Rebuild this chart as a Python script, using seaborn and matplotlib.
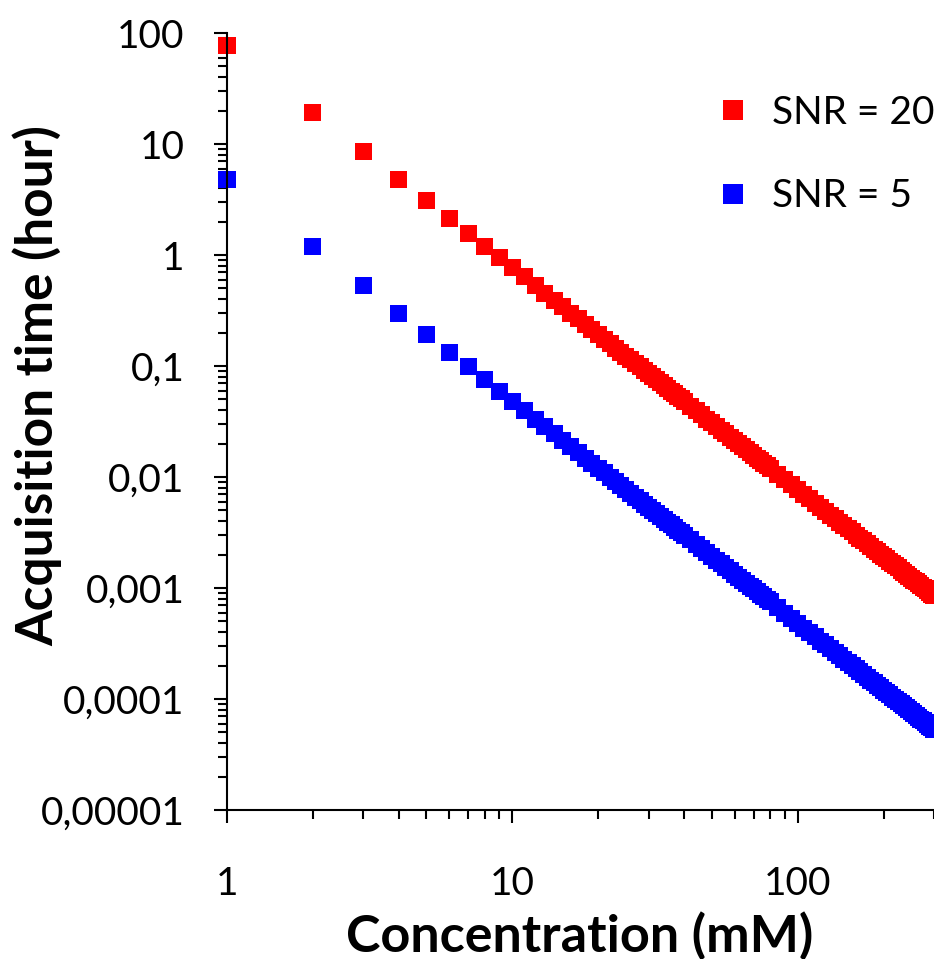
import matplotlib
matplotlib.use("Agg")
import matplotlib.pyplot as plt
import matplotlib.ticker as mticker
import pandas as pd
import seaborn as sns

# ---------------- data ----------------
concentration_mM = [
    1, 2, 3, 4, 5, 6, 7, 8, 9, 10, 11, 12, 13, 14, 15, 16, 17, 18, 19, 20,
    21, 22, 23, 24, 25, 26, 27, 28, 29, 30, 31, 32, 33, 34, 35, 36, 37, 38, 39, 40,
    42, 44, 46, 48, 50, 52, 54, 56, 58, 60, 62, 64, 66, 68, 70, 72, 74, 76, 78, 80,
    85, 90, 95, 100, 105, 110, 115, 120, 125, 130, 135, 140, 145, 150, 155, 160,
    165, 170, 175, 180, 185, 190, 195, 200, 205, 210, 215, 220, 225, 230, 235, 240,
    245, 250, 255, 260, 265, 270, 275, 280, 285, 290, 295, 300,
]

time_snr20_h = [
    76.8, 19.2, 8.53, 4.8, 3.07, 2.13, 1.57, 1.2, 0.948, 0.768, 0.635, 0.533, 0.454,
    0.392, 0.341, 0.3, 0.266, 0.237, 0.213, 0.192, 0.174, 0.159, 0.145, 0.133, 0.123,
    0.114, 0.105, 0.098, 0.0913, 0.0853, 0.0799, 0.075, 0.0705, 0.0664, 0.0627, 0.0593,
    0.0561, 0.0532, 0.0505, 0.048,
    0.0435, 0.0397, 0.0363, 0.0333, 0.0307, 0.0284, 0.0263, 0.0245, 0.0228, 0.0213,
    0.0200, 0.0188, 0.0176, 0.0166, 0.0157, 0.0148, 0.0140, 0.0133, 0.0126, 0.012,
    0.0106, 0.00948, 0.00851, 0.00768, 0.00697, 0.00635, 0.00581, 0.00533, 0.00492,
    0.00454, 0.00421, 0.00392, 0.00365, 0.00341, 0.00320, 0.003, 0.00282, 0.00266,
    0.00251, 0.00237, 0.00224, 0.00213, 0.00202, 0.00192, 0.00183, 0.00174, 0.00166,
    0.00159, 0.00152, 0.00145, 0.00139, 0.00133, 0.00128, 0.00123, 0.00118, 0.00114,
    0.00109, 0.00105, 0.00102, 0.00098, 0.000946, 0.000913, 0.000883, 0.000853,
]

time_snr5_h = [
    4.8, 1.2, 0.533, 0.3, 0.192, 0.133, 0.098, 0.075, 0.0593, 0.048, 0.0397, 0.0333,
    0.0284, 0.0245, 0.0213, 0.0188, 0.0166, 0.0148, 0.0133, 0.012, 0.0109, 0.00992,
    0.00907, 0.00833, 0.00768, 0.0071, 0.00658, 0.00612, 0.00571, 0.00533, 0.005,
    0.00469, 0.00441, 0.00415, 0.00392, 0.0037, 0.00351, 0.00332, 0.00316, 0.003,
    0.00272, 0.00248, 0.00227, 0.00208, 0.00192, 0.00178, 0.00165, 0.00153, 0.00143,
    0.00133, 0.00125, 0.00117, 0.0011, 0.00104, 0.00098, 0.000926, 0.000876, 0.000831,
    0.000789, 0.00075,
    0.000664, 0.000593, 0.000532, 0.00048, 0.000435, 0.000397, 0.000363, 0.000333,
    0.000307, 0.000284, 0.000263, 0.000245, 0.000228, 0.000213, 0.0002, 0.000188,
    0.000176, 0.000166, 0.000157, 0.000148, 0.00014, 0.000133, 0.000126, 0.00012,
    0.000114, 0.000109, 0.000104, 0.0000992, 0.0000948, 0.0000907, 0.0000869,
    0.0000833, 0.0000799, 0.0000768, 0.0000738, 0.000071, 0.0000684, 0.0000658,
    0.0000635, 0.0000613, 0.0000591, 0.0000571, 0.0000552, 0.0000533,
]

series_labels = ["SNR = 20", "SNR = 5"]
series_colors = ["#FF0000", "#0000FF"]

x_ticks = [1, 10, 100]
x_tick_labels = ["1", "10", "100"]
y_ticks = [1e-5, 1e-4, 1e-3, 1e-2, 1e-1, 1, 10, 100]
y_tick_labels = ["0,00001", "0,0001", "0,001", "0,01", "0,1", "1", "10", "100"]

x_label = "Concentration (mM)"
y_label = "Acquisition time (hour)"

# ---------------- long-form table ----------------
df = pd.concat([
    pd.DataFrame({"Concentration": concentration_mM, "Time": time_snr20_h,
                  "Series": series_labels[0]}),
    pd.DataFrame({"Concentration": concentration_mM, "Time": time_snr5_h,
                  "Series": series_labels[1]}),
], ignore_index=True)

# ---------------- style ----------------
sns.set_style("ticks")
plt.rcParams["font.family"] = ["Lato", "DejaVu Sans"]
plt.rcParams["text.color"] = "black"
plt.rcParams["axes.labelcolor"] = "black"

W, H = 934, 959
fig = plt.figure(figsize=(W / 100, H / 100), dpi=100)
ax_l, ax_r, ax_t, ax_b = 227, 934, 33, 810
ax = fig.add_axes([ax_l / W, 1 - ax_b / H, (ax_r - ax_l) / W, (ax_b - ax_t) / H])

sns.scatterplot(
    data=df, x="Concentration", y="Time", hue="Series",
    hue_order=series_labels,
    palette=dict(zip(series_labels, series_colors)),
    marker="s", s=150, linewidth=0, ax=ax, legend=True, clip_on=False,
)

ax.set_xscale("log")
ax.set_yscale("log")
ax.set_xlim(1, 300)
ax.set_ylim(1e-5, 100)

ax.set_xticks(x_ticks, labels=x_tick_labels)
ax.set_yticks(y_ticks, labels=y_tick_labels)
ax.xaxis.set_minor_locator(mticker.LogLocator(base=10, subs=range(2, 10), numticks=20))
ax.yaxis.set_minor_locator(mticker.LogLocator(base=10, subs=range(2, 10), numticks=20))
ax.xaxis.set_minor_formatter(mticker.NullFormatter())
ax.yaxis.set_minor_formatter(mticker.NullFormatter())

for side in ["top", "right"]:
    ax.spines[side].set_visible(False)
for side in ["left", "bottom"]:
    ax.spines[side].set_linewidth(1.5)
    ax.spines[side].set_color("black")

ax.tick_params(axis="both", which="both", bottom=True, left=True, top=False, right=False)
ax.tick_params(axis="both", which="major", direction="out", length=9.5, width=1.5,
               colors="black", labelsize=28)
ax.tick_params(axis="both", which="minor", direction="out", length=6.5, width=1.5,
               colors="black")
ax.tick_params(axis="y", which="major", pad=21)
ax.tick_params(axis="x", which="major", pad=31)

ax.set_xlabel("")
ax.set_ylabel("")
fig.text(580 / W, 1 - 936 / H, x_label, fontsize=37.5, fontweight="bold",
         color="black", ha="center", va="center")
fig.text(37 / W, 1 - 386 / H, y_label, fontsize=37, fontweight="bold",
         color="black", rotation=90, ha="center", va="center")

handles, labels = ax.get_legend_handles_labels()
ax.legend(handles, labels, loc="upper left",
          bbox_to_anchor=(721.5 / W, 1 - 94.5 / H), bbox_transform=fig.transFigure,
          frameon=False, fontsize=28, markerscale=1.18, handlelength=0.6,
          handletextpad=0.7, labelspacing=1.23, borderpad=0, borderaxespad=0)

fig.savefig("out.png", dpi=100)
